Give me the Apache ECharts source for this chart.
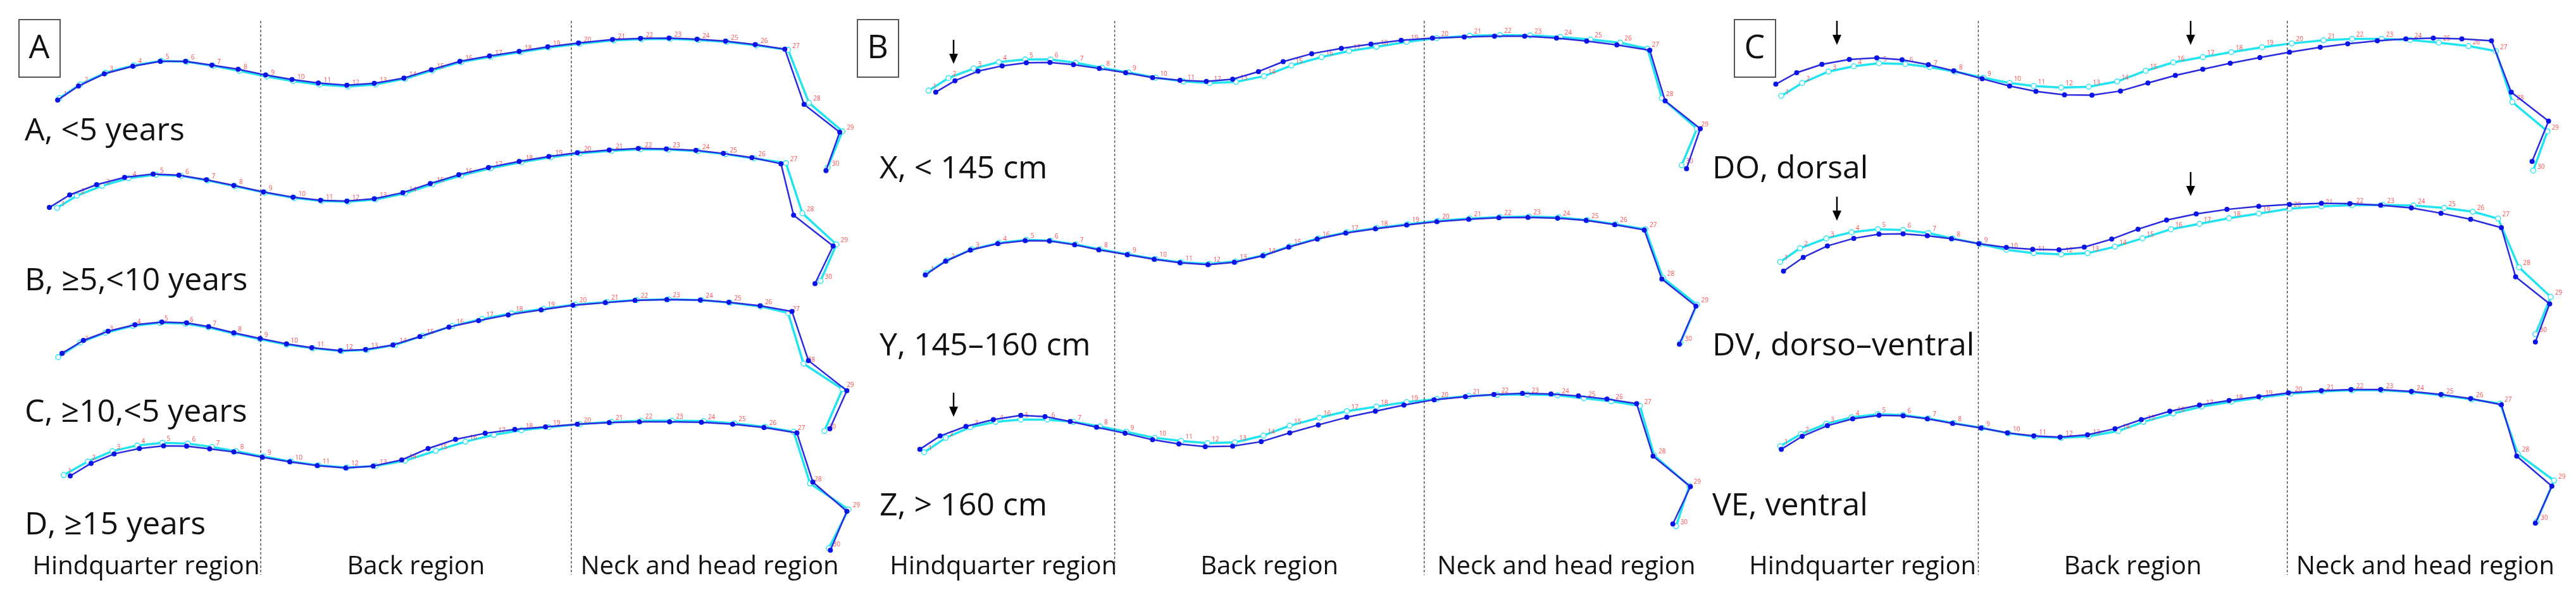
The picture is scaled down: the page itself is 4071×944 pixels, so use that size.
<!DOCTYPE html>
<html>
<head>
<meta charset="utf-8">
<script src="https://cdn.jsdelivr.net/npm/echarts@6/dist/echarts.min.js"></script>
<style>
html,body{margin:0;padding:0;background:#fff;}
#chart{width:4071px;height:944px;}
</style>
</head>
<body>
<div id="chart"></div>
<script>
// point coordinates per curve, [x, y] in panel units (0..1568 each way, y down)
var A1_group = [[105,263],[143,226],[190,194],[242,174],[292,161],[338,161],[386,171],[434,182],[484,197],[532,209],[580,218],[632,224],[682,219],[736,205],[786,183],[838,161],[892,147],[946,135],[998,123],[1054,113],[1116,104],[1167,101],[1219,100],[1270,103],[1322,108],[1376,117],[1430,129],[1465,274],[1530,347],[1505,448]];
var A1_mean = [[108,258],[146,222],[192,191],[244,172],[294,160],[340,162],[388,173],[436,186],[486,201],[534,213],[582,222],[634,227],[684,222],[738,207],[788,185],[840,163],[894,149],[948,137],[1000,125],[1056,115],[1118,106],[1169,103],[1221,102],[1272,105],[1324,110],[1378,119],[1436,131],[1474,270],[1535,345],[1508,440]];
var A2_group = [[90,545],[127,512],[176,485],[227,466],[279,457],[326,460],[376,472],[426,487],[480,504],[534,518],[584,526],[632,528],[682,522],[734,506],[784,482],[836,459],[890,440],[946,424],[1000,411],[1052,401],[1110,394],[1163,390],[1214,391],[1268,395],[1318,403],[1370,414],[1423,430],[1446,565],[1518,646],[1485,745]];
var A2_mean = [[104,546],[140,514],[186,488],[234,468],[284,459],[330,462],[378,474],[428,489],[482,506],[536,520],[586,528],[634,530],[684,524],[738,508],[788,484],[840,461],[894,442],[950,426],[1004,413],[1056,403],[1114,396],[1167,392],[1218,393],[1272,397],[1322,405],[1374,416],[1432,428],[1462,560],[1524,642],[1495,738]];
var A3_group = [[113,928],[152,894],[197,870],[246,853],[295,846],[340,848],[380,858],[426,874],[474,889],[522,903],[568,913],[620,921],[666,918],[716,906],[765,884],[818,859],[872,842],[926,827],[986,814],[1044,802],[1103,795],[1157,789],[1215,787],[1276,788],[1328,794],[1385,803],[1443,818],[1473,947],[1543,1026],[1512,1126]];
var A3_mean = [[106,938],[146,900],[192,874],[242,856],[292,848],[338,850],[380,860],[426,876],[474,891],[522,905],[570,915],[622,922],[668,919],[720,906],[770,882],[824,856],[878,838],[932,823],[990,811],[1048,800],[1106,793],[1160,788],[1218,786],[1278,788],[1330,795],[1386,805],[1436,822],[1464,955],[1535,1022],[1502,1132]];
var A4_group = [[128,1250],[166,1217],[208,1192],[254,1178],[298,1171],[340,1172],[382,1179],[426,1187],[478,1201],[528,1213],[578,1223],[630,1229],[680,1224],[732,1208],[780,1178],[830,1154],[884,1138],[938,1128],[994,1121],[1052,1114],[1110,1110],[1165,1108],[1220,1108],[1278,1109],[1335,1114],[1392,1123],[1452,1137],[1481,1266],[1543,1343],[1513,1445]];
var A4_mean = [[116,1248],[160,1212],[205,1185],[250,1170],[296,1163],[342,1165],[386,1174],[430,1185],[480,1199],[530,1212],[580,1222],[632,1228],[684,1224],[738,1210],[794,1184],[848,1160],[900,1142],[950,1130],[1000,1122],[1056,1114],[1114,1108],[1168,1105],[1224,1105],[1282,1106],[1338,1112],[1394,1121],[1446,1134],[1476,1270],[1546,1338],[1510,1440]];

var X_group = [[137,242],[172,212],[214,187],[258,173],[302,165],[345,164],[388,170],[435,180],[483,191],[532,204],[582,211],[630,214],[678,208],[725,188],[770,162],[822,141],[876,127],[930,116],[985,106],[1042,100],[1100,97],[1155,95],[1210,95],[1268,100],[1323,108],[1378,118],[1438,132],[1466,265],[1530,338],[1505,443]];
var X_mean = [[124,238],[160,205],[206,180],[252,163],[300,156],[346,156],[392,165],[440,178],[488,190],[538,204],[588,214],[636,218],[684,215],[735,200],[785,172],[840,150],[890,134],[940,123],[995,110],[1050,100],[1110,94],[1165,92],[1220,93],[1275,97],[1330,104],[1384,112],[1434,128],[1460,258],[1524,338],[1496,434]];
var Y_group = [[118,722],[155,686],[200,657],[250,640],[300,632],[344,633],[390,643],[434,656],[486,669],[535,681],[582,690],[633,695],[681,689],[733,672],[780,649],[832,628],[884,612],[938,601],[995,591],[1050,582],[1108,576],[1163,572],[1216,571],[1270,573],[1322,579],[1374,590],[1428,604],[1460,733],[1522,804],[1492,904]];
var Y_mean = [[120,718],[157,684],[202,655],[252,638],[302,630],[346,632],[392,642],[436,655],[488,668],[537,680],[584,689],[635,693],[683,687],[735,670],[782,647],[834,626],[886,610],[940,599],[997,589],[1052,580],[1110,574],[1165,570],[1218,569],[1272,571],[1324,578],[1376,589],[1430,602],[1462,730],[1524,800],[1494,900]];
var Z_group = [[108,1180],[145,1145],[192,1120],[242,1102],[292,1091],[336,1094],[382,1107],[430,1122],[482,1138],[532,1155],[580,1166],[628,1173],[678,1172],[730,1160],[782,1137],[834,1116],[886,1096],[938,1080],[990,1064],[1045,1050],[1102,1042],[1154,1036],[1206,1033],[1258,1035],[1308,1040],[1360,1048],[1414,1060],[1444,1198],[1512,1278],[1480,1376]];
var Z_mean = [[116,1188],[155,1150],[200,1122],[246,1108],[292,1102],[340,1102],[388,1108],[436,1120],[484,1134],[536,1150],[584,1158],[632,1164],[682,1162],[734,1144],[782,1118],[836,1097],[886,1080],[940,1068],[995,1056],[1050,1048],[1108,1040],[1160,1037],[1215,1036],[1270,1038],[1318,1046],[1368,1054],[1420,1066],[1446,1196],[1510,1276],[1486,1382]];

var DO_group = [[110,221],[148,191],[194,169],[244,156],[294,152],[340,157],[388,170],[434,186],[486,207],[536,226],[584,240],[636,249],[686,250],[738,239],[788,218],[838,198],[888,182],[938,166],[992,151],[1046,137],[1102,124],[1152,115],[1206,107],[1258,102],[1308,100],[1360,102],[1414,107],[1450,242],[1518,318],[1488,424]];
var DO_mean = [[120,252],[158,218],[206,188],[252,174],[298,166],[346,168],[390,176],[436,188],[488,204],[536,218],[580,226],[630,230],[680,228],[732,214],[784,186],[834,164],[888,150],[940,137],[996,124],[1050,114],[1108,106],[1160,102],[1214,102],[1266,105],[1318,112],[1372,121],[1422,134],[1452,268],[1516,345],[1490,448]];
var DV_group = [[124,712],[160,676],[204,646],[252,626],[298,615],[342,614],[386,619],[430,627],[480,640],[530,650],[578,655],[626,656],[672,649],[722,628],[770,602],[822,578],[876,562],[932,550],[990,542],[1046,537],[1104,534],[1156,535],[1212,539],[1268,546],[1322,560],[1376,576],[1432,598],[1458,727],[1520,798],[1494,898]];
var DV_mean = [[118,688],[154,652],[202,626],[248,610],[296,602],[342,604],[388,612],[432,626],[482,641],[530,656],[580,665],[630,668],[678,665],[728,648],[778,626],[830,602],[882,588],[936,573],[990,561],[1046,548],[1104,542],[1160,539],[1216,538],[1272,540],[1328,546],[1380,556],[1426,574],[1464,702],[1522,780],[1494,878]];
var VE_group = [[120,1180],[158,1146],[204,1118],[250,1100],[298,1091],[342,1092],[386,1100],[432,1112],[484,1124],[532,1137],[580,1145],[628,1148],[678,1142],[728,1126],[776,1102],[828,1080],[882,1064],[936,1052],[990,1042],[1044,1032],[1104,1026],[1158,1023],[1212,1023],[1268,1028],[1322,1036],[1376,1047],[1432,1063],[1460,1198],[1524,1277],[1494,1374]];
var VE_mean = [[118,1172],[156,1140],[202,1113],[248,1096],[296,1088],[342,1090],[388,1099],[434,1111],[486,1124],[534,1138],[582,1147],[630,1150],[680,1146],[734,1132],[780,1108],[834,1086],[886,1068],[940,1055],[994,1044],[1048,1034],[1106,1028],[1160,1025],[1214,1025],[1270,1030],[1324,1038],[1378,1049],[1430,1060],[1462,1192],[1528,1262],[1496,1370]];

var panelLeft = [0, 1360, 2711];
var panelCurves = [
    [A1_group, A1_mean, A2_group, A2_mean, A3_group, A3_mean, A4_group, A4_mean],
    [X_group, X_mean, Y_group, Y_mean, Z_group, Z_mean],
    [DO_group, DO_mean, DV_group, DV_mean, VE_group, VE_mean]
];
var dividers = [[475, 1041], [463, 1027], [479, 1042]];
var panelLetters = ['A', 'B', 'C'];
var curveLabels = [
    [['A, <5 years', 208], ['B, \u22655,<10 years', 445], ['C, \u226510,<5 years', 653], ['D, \u226515 years', 831]],
    [['X, < 145 cm', 268], ['Y, 145\u2013160 cm', 548], ['Z, > 160 cm', 801]],
    [['DO, dorsal', 268], ['DV, dorso\u2013ventral', 548], ['VE, ventral', 801]]
];
var regionNames = ['Hindquarter region', 'Back region', 'Neck and head region'];
var arrows = [[1507, 63], [1507, 621], [2903, 33], [3462, 33], [2903, 311], [3462, 272]];

var chart = echarts.init(document.getElementById('chart'));
var grids = [], xAxes = [], yAxes = [], series = [], graphics = [];
var FONT = 'Open Sans';

panelLeft.forEach(function (left, p) {
    grids.push({left: left, top: 0, width: 1360, height: 944});
    xAxes.push({gridIndex: p, type: 'value', min: 0, max: 1568, show: false});
    yAxes.push({gridIndex: p, type: 'value', min: 0, max: 1568, inverse: true, show: false});

    dividers[p].forEach(function (x) {
        series.push({
            type: 'line', xAxisIndex: p, yAxisIndex: p, data: [[x, 55], [x, 1510]],
            symbol: 'none', silent: true,
            lineStyle: {color: '#555', width: 1.5, type: [4, 3]}
        });
    });

    panelCurves[p].forEach(function (d, i) {
        var isMean = i % 2 === 1;
        series.push({
            type: 'line', xAxisIndex: p, yAxisIndex: p, data: d,
            z: isMean ? 2 : 3,
            symbol: 'circle',
            symbolSize: isMean ? 8 : 8,
            itemStyle: isMean ? {color: '#fff', borderColor: '#33e6ee', borderWidth: 1.5} : {color: '#0a14e6'},
            lineStyle: isMean ? {color: '#22e4ee', width: 3.5} : {color: '#2a2ae0', width: 2.5},
            label: {
                show: isMean,
                formatter: function (v) { return v.dataIndex + 1; },
                position: 'right', distance: 2, offset: [0, -6],
                color: '#ff5050', fontSize: 10, fontFamily: FONT
            },
            animation: false
        });
    });

    // panel letter box
    var bx = p === 1 ? 1355 : left + 30;
    graphics.push({
        type: 'rect', shape: {x: bx, y: 31, width: 65, height: 91},
        style: {fill: '#fff', stroke: '#555', lineWidth: 2}
    });
    graphics.push({
        type: 'text', x: bx + 32, y: 77,
        style: {text: panelLetters[p], font: '52px "' + FONT + '"', fill: '#111', align: 'center', verticalAlign: 'middle'}
    });

    curveLabels[p].forEach(function (c) {
        graphics.push({
            type: 'text', x: left + (p === 0 ? 39 : p === 1 ? 30 : -5), y: c[1],
            style: {text: c[0], font: '50px "' + FONT + '"', fill: '#111', verticalAlign: 'middle'}
        });
    });

    var d0 = left + dividers[p][0] * 1360 / 1568, d1 = left + dividers[p][1] * 1360 / 1568;
    var centers = [(left + 50 + d0) / 2, (d0 + d1) / 2, (d1 + left + 1340) / 2];
    regionNames.forEach(function (r, k) {
        graphics.push({
            type: 'text', x: centers[k], y: 897,
            style: {text: r, font: '40px "' + FONT + '"', fill: '#111', align: 'center', verticalAlign: 'middle'}
        });
    });
});

arrows.forEach(function (a) {
    graphics.push({type: 'line', shape: {x1: a[0], y1: a[1], x2: a[0], y2: a[1] + 26}, style: {stroke: '#000', lineWidth: 2.5}});
    graphics.push({type: 'polygon', shape: {points: [[a[0] - 7, a[1] + 22], [a[0] + 7, a[1] + 22], [a[0], a[1] + 38]]}, style: {fill: '#000'}});
});

chart.setOption({
    backgroundColor: '#fff',
    animation: false,
    grid: grids,
    xAxis: xAxes,
    yAxis: yAxes,
    series: series,
    graphic: graphics
});
</script>
</body>
</html>
